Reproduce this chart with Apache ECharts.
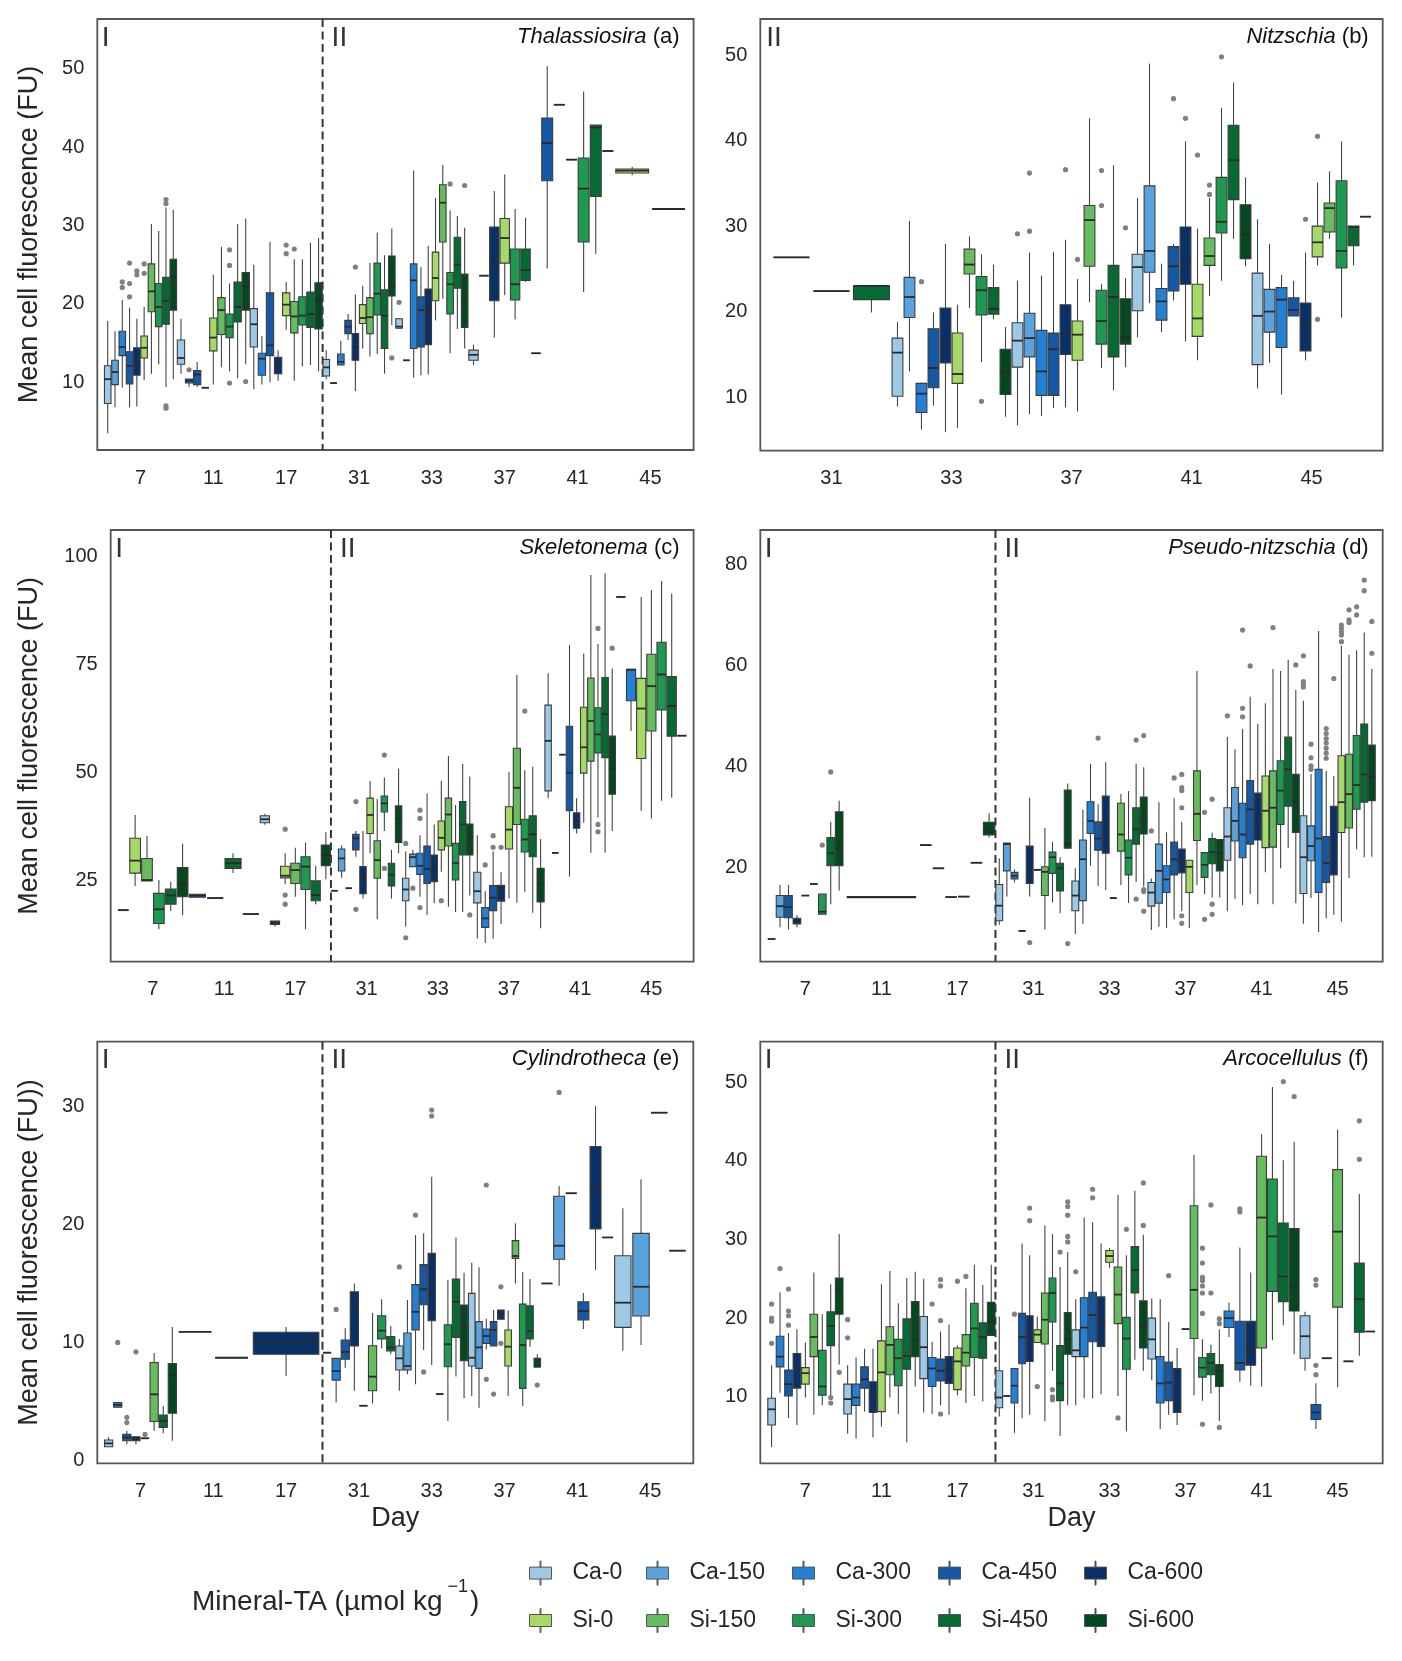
<!DOCTYPE html>
<html><head><meta charset="utf-8">
<script src="https://cdn.jsdelivr.net/npm/echarts@6/dist/echarts.min.js"></script>
<style>html,body{margin:0;padding:0;background:#fff}#c{width:1402px;height:1661px}</style>
</head><body><div id="c"></div>
<script>
// ---------- categories / series ----------
const SERIES = ['Ca-0','Ca-150','Ca-300','Ca-450','Ca-600','Si-0','Si-150','Si-300','Si-450','Si-600'];
const COLORS = ['#9dc8e6','#5ba3dd','#2281d6','#1558a5','#0a3068','#a5da68','#66bc5f','#1d9a50','#066b33','#03481f'];
const DAYS_ALL = ['7','11','17','31','33','37','41','45'];
const DAYS_B = ['31','33','37','41','45'];
const YTICKS_A = [10,20,30,40,50];
const YTICKS_B = [10,20,30,40,50];
const YTICKS_C = [25,50,75,100];
const YTICKS_D = [20,40,60,80];
const YTICKS_E = [0,10,20,30];
const YTICKS_F = [10,20,30,40,50];
// each entry: [min, Q1, median, Q3, max], a single number (all equal) or null (no data)

// Panel a: Thalassiosira
const a_Ca0  = [[3.5,7.3,10.4,12.1,17.8],[11.1,12.3,13.1,15.4,18.1],[9.1,14.5,17.4,19.4,25.0],[10.4,10.8,11.9,12.9,14.1],[16.8,16.9,17.1,18.1,18.2],[12.2,12.8,13.5,14.1,14.8],null,null];
const a_Ca150= [[6.8,9.7,11.3,12.8,16.5],null,null,9.9,12.8,null,null,null];
const a_Ca300= [[9.3,13.4,14.5,16.5,20.5],[9.4,9.9,10.2,10.4,10.4],[9.7,10.9,13.0,13.7,15.9],[12.2,12.2,12.6,13.6,15.3],[10.6,14.3,23.0,25.1,37.0],23.6,null,null];
const a_Ca450= [[6.8,9.8,12.1,13.9,19.5],[9.4,9.7,11.0,11.5,12.6],[10.0,13.4,14.7,21.4,27.9],[15.4,16.2,17.1,17.9,18.7],[10.9,14.5,19.2,20.9,24.7],null,[24.5,35.7,40.5,43.7,50.3],null];
const a_Ca600= [[6.9,10.9,12.7,14.4,18.1],9.3,[10.2,11.1,12.2,13.2,14.1],[8.9,12.8,14.5,16.2,21.2],[11.0,14.8,19.2,21.9,27.4],[15.7,20.4,25.2,29.8,34.4],45.4,null];
const a_Si0  = [[10.3,13.1,14.4,15.9,19.6],[9.7,14.0,15.7,18.2,23.7],[16.7,18.5,19.9,21.4,22.8],[14.3,17.5,18.2,19.9,22.3],[17.9,20.4,23.3,26.6,33.5],[21.1,25.2,28.4,30.9,36.5],38.4,[36.4,36.7,37.0,37.2,37.5]];
const a_Si150= [[11.1,19.0,21.6,25.1,30.2],[11.9,16.1,19.2,20.8,27.3],[10.2,16.3,18.4,20.3,25.7],[13.3,16.2,18.3,20.8,25.2],[20.7,27.9,32.9,35.2,37.7],null,null,null];
const a_Si300= [[12.3,17.1,19.6,22.6,29.3],[11.4,15.7,17.1,18.7,22.6],[12.0,17.3,18.5,20.9,25.7],[13.6,18.6,21.3,25.2,29.1],[13.7,18.7,22.5,24.0,31.9],[18.0,20.5,22.5,27.0,32.1],[21.5,27.9,34.7,38.6,47.1],null];
const a_Si450= [[9.4,17.4,20.4,23.4,32.3],[10.5,17.7,19.6,22.8,30.2],[12.2,17.0,18.7,21.5,27.8],[11.1,14.3,18.5,21.8,26.2],[16.8,22.0,25.0,28.5,31.2],[22.8,23.0,24.3,27.0,31.0],[26.4,33.7,42.5,42.8,42.8],null];
const a_Si600= [[10.4,19.2,23.4,25.7,32.0],[12.3,19.2,22.3,24.0,30.9],[11.4,16.8,20.4,22.7,28.4],[17.3,21.0,22.2,26.1,29.6],[14.3,17.0,20.4,23.8,29.7],13.7,39.5,32.1];
const a_out = [['Ca-300',0,22.8,22.1],['Ca-450',0,25.2,22.6,20.9],['Ca-600',0,24.2,23.7],['Si-0',0,25.1,23.9],['Si-450',0,33.3,32.8,7.0,6.7],['Ca-300',1,11.6],['Si-300',1,26.9,24.9,9.9],['Si-600',1,10.1],['Si-0',2,27.5,26.4],['Si-150',2,27.0],['Ca-600',3,24.7],['Si-600',3,13.1],['Ca-0',4,20.2],['Si-300',4,35.3],['Si-600',4,35.1]];

// Panel b: Nitzschia
const b_Ca0  = [null,[8.9,10.1,15.2,16.9,18.8],[6.7,13.5,16.6,18.7,23.6],[17.0,20.1,25.2,26.7,33.3],[11.0,13.8,19.5,24.5,30.8]];
const b_Ca150= [null,[13.0,19.3,21.7,24.0,30.6],[8.0,14.7,16.9,19.8,26.9],[21.0,24.6,27.1,34.7,49.0],[14.0,17.6,20.0,22.6,27.9]];
const b_Ca300= [null,[6.2,8.2,10.4,11.6,11.7],[7.8,10.2,13.0,17.8,24.2],[17.6,19.0,21.2,22.7,25.6],[10.3,15.8,21.4,22.8,24.3]];
const b_Ca450= [null,[9.0,11.1,13.4,18.0,19.9],[8.7,10.2,15.6,17.5,27.0],[21.3,22.4,25.3,27.6,27.9],[19.5,19.5,20.2,21.6,23.6]];
const b_Ca600= [26.35,[5.9,14.0,16.2,20.4,27.9],[8.8,15.0,17.5,20.8,28.4],[16.5,23.2,25.8,29.9,39.9],[14.3,15.4,18.5,21.0,26.9]];
const b_Si0  = [null,[6.4,11.6,12.7,17.5,20.8],[8.3,14.3,17.3,18.9,23.8],[14.3,17.1,19.2,23.2,29.7],[25.4,26.4,28.1,30.0,35.1]];
const b_Si150= [null,[20.4,24.4,25.5,27.3,28.8],[21.1,25.3,30.7,32.4,42.6],[21.8,25.4,26.5,28.6,33.3],[28.5,29.3,32.1,32.7,36.4]];
const b_Si300= [22.4,[14.1,19.6,22.5,24.1,26.7],[13.4,16.2,18.9,22.5,23.2],[23.6,29.2,30.5,35.7,43.8],[19.3,25.1,27.1,35.3,39.9]];
const b_Si450= [[19.9,21.4,23.0,23.0,23.0],[19.1,19.7,20.3,22.8,25.5],[10.8,14.7,21.7,25.4,37.1],[28.5,33.1,37.7,41.8,46.8],[25.4,27.7,29.9,30.0,30.0]];
const b_Si600= [null,[7.7,10.3,13.0,15.6,18.2],[13.5,16.2,17.0,21.5,23.9],[25.3,26.2,29.0,32.5,35.7],31.1];
const b_out = [['Ca-300',1,23.5],['Si-300',1,9.5],['Ca-0',2,29.1],['Ca-150',2,36.2,29.4],['Ca-600',2,36.6],['Si-0',2,26.1],['Si-300',2,36.5,32.4],['Si-600',2,29.8],['Ca-450',3,44.9],['Ca-600',3,42.6],['Si-0',3,38.3],['Si-150',3,34.8,33.7],['Si-300',3,49.8],['Ca-600',4,30.8],['Si-0',4,40.5,19.1]];

// Panel c: Skeletonema
const c_Ca0  = [18.0,null,[37.8,38.3,39.1,39.9,40.4],22.5,[14.2,20.2,22.8,25.4,31.6],[11.4,19.7,22.4,26.8,35.4],[44.0,45.7,57.3,65.6,73.0],null];
const c_Ca150= [null,null,null,[25.5,27.1,30.0,32.2,33.0],[28.1,28.1,30.3,31.0,32.0],null,31.3,90.7];
const c_Ca300= [null,null,null,23.1,[21.1,26.3,28.3,31.2,35.4],[10.4,14.0,16.1,18.6,22.4],54.1,[59.6,66.6,73.8,73.9,73.9]];
const c_Ca450= [null,[21.0,21.0,21.4,21.7,21.7],[14.2,14.7,15.1,15.5,15.5],[30.4,32.0,34.7,35.6,36.4],[16.9,24.2,27.6,32.9,45.1],[11.4,17.9,20.9,23.7,31.7],[25.8,41.1,49.9,60.7,79.5],null];
const c_Ca600= [null,20.8,null,[20.7,21.8,25.2,28.1,36.4],[19.6,24.6,26.9,30.8,37.9],[14.8,20.1,23.4,23.8,26.8],[35.8,37.0,38.5,40.6,44.0],null];
const c_Si0  = [[23.6,26.6,29.5,34.7,40.1],null,[24.0,25.5,26.0,28.2,31.2],[31.2,35.8,40.1,44.0,48.0],[26.9,32.0,34.8,38.7,48.0],[20.7,32.2,36.7,42.0,50.1],[38.3,49.8,55.8,65.1,77.6],[41.1,53.2,64.8,71.8,90.7]];
const c_Si150= [[24.8,24.8,25.0,30.0,35.2],null,[21.1,24.2,27.3,28.9,32.5],[15.9,25.4,29.6,34.1,43.8],[18.8,32.9,40.2,44.0,53.8],[19.7,37.9,46.4,55.6,72.6],[31.3,52.6,61.9,71.9,95.8],[39.3,59.6,70.0,77.4,92.3]];
const c_Si300= [[13.6,14.9,18.2,21.9,25.0],null,[13.6,22.8,28.1,30.4,33.7],[36.4,40.8,42.8,44.5,48.8],[17.6,25.0,28.9,33.5,42.4],[22.3,31.5,34.4,39.1,50.5],[39.5,54.5,58.8,65.0,79.8],[43.4,64.5,72.7,80.2,94.4]];
const c_Si450= [[17.8,19.4,21.4,22.9,24.6],[26.6,27.7,28.9,30.0,31.2],[19.4,20.2,21.5,24.8,28.3],[20.7,23.6,26.2,28.9,32.0],[17.6,30.8,37.9,43.2,51.9],[17.4,30.4,35.6,39.9,51.3],[31.3,53.4,63.5,72.0,96.2],[44.1,58.4,65.4,72.2,91.5]];
const c_Si600= [[16.9,21.1,24.1,27.9,33.4],17.1,[25.2,28.3,30.8,33.1,36.1],[31.2,33.7,39.2,42.2,50.8],[21.4,30.8,34.9,38.0,49.0],[13.8,19.9,24.1,27.7,34.5],[36.4,44.9,50.9,58.4,74.1],58.5];
const c_out = [['Si-0',2,36.8,21.5,19.4],['Ca-450',3,43.2,18.2],['Si-300',3,54.0,27.7],['Ca-0',4,33.5,11.6],['Ca-150',4,23.1],['Ca-300',4,41.2,39.3,18.6],['Si-0',4,20.2],['Si-600',4,16.9],['Ca-300',5,28.5],['Ca-450',5,35.3,32.6],['Ca-600',5,32.6],['Si-300',5,64.2],['Si-300',6,83.4,37.9,36.2],['Si-600',6,78.8]];

// Panel d: Pseudo-nitzschia
const d_Ca0  = [5.8,null,null,[8.6,9.4,12.4,16.6,21.8],[6.8,11.4,14.4,17.3,19.8],[7.6,12.3,15.0,17.0,17.8],[11.3,21.4,26.1,31.8,45.8],[8.8,14.8,22.0,30.2,53.0]];
const d_Ca150= [[8.1,10.1,12.3,14.4,16.5],null,24.4,[14.2,19.3,24.6,24.8,24.8],[8.8,13.4,21.6,25.4,31.4],[8.2,12.9,19.3,24.6,32.9],[13.7,25.2,29.2,35.8,43.4],[13.9,21.3,24.2,28.2,38.5]];
const d_Ca300= [null,null,19.8,[17.0,17.7,18.3,19.0,19.6],[20.3,26.7,29.2,33.0,40.5],[8.0,15.0,17.6,20.3,26.9],[12.5,21.9,26.5,32.7,47.4],[7.2,15.0,25.7,39.4,66.8]];
const d_Ca450= [[7.7,10.0,12.1,14.4,16.5],null,14.1,7.4,[16.3,23.4,25.7,29.0,32.5],[9.7,18.5,21.6,25.0,33.7],[14.7,24.6,31.5,37.2,53.8],[9.9,17.0,20.8,26.1,39.1]];
const d_Ca600= [[8.1,8.8,9.4,9.9,10.5],null,null,[14.2,16.8,18.5,24.2,33.8],[15.5,22.8,28.2,34.1,40.8],[11.3,18.9,21.1,23.6,29.0],[12.7,25.4,29.2,34.7,48.4],[10.6,18.5,23.9,32.1,38.1]];
const d_Si0  = [14.4,null,null,19.5,13.9,[8.0,15.0,20.1,21.4,21.4],[19.0,23.9,31.2,38.1,52.5],[9.2,26.9,32.9,42.1,63.9]];
const d_Si150= [16.7,null,null,[7.7,14.4,19.1,20.1,27.8],[16.5,23.2,26.5,32.7,34.5],[16.5,25.3,30.6,39.1,58.9],[12.7,24.0,31.8,39.1,59.3],[17.9,27.8,34.5,42.4,62.1]];
const d_Si300= [[10.7,10.7,11.2,14.7,14.7],null,14.2,[13.0,18.8,22.0,23.0,25.1],[12.9,18.5,21.9,25.4,35.1],[14.7,18.0,20.5,22.9,22.9],[19.8,28.5,35.2,41.1,58.9],[23.6,31.5,36.3,46.1,63.0]];
const d_Si450= [[12.7,20.3,22.8,25.9,29.0],[14.0,14.0,14.1,14.2,14.2],20.9,[10.9,15.3,19.8,20.8,22.0],[17.1,24.6,27.5,31.8,40.5],[14.0,20.7,23.0,25.7,26.9],[23.8,32.1,39.4,45.8,61.1],[22.0,32.9,38.4,48.4,66.5]];
const d_Si600= [[15.4,20.3,23.8,31.0,33.2],null,[25.9,26.4,27.1,28.9,30.7],[23.8,23.8,24.6,35.3,36.6],[16.2,26.6,29.5,33.9,39.8],[14.0,19.3,22.8,25.5,25.5],[12.9,26.9,33.0,38.4,55.1],[22.1,33.2,37.9,44.2,59.3]];
const d_out = [['Si-300',0,24.4],['Si-450',0,38.9],['Ca-600',3,5.1],['Si-600',3,4.9],['Ca-450',4,45.6],['Si-450',4,45.2,13.7],['Si-600',4,46.1,15.6,15.2,11.3],['Ca-0',5,27.2],['Ca-450',5,37.7],['Ca-600',5,38.4,35.8,35.2,31.8,10.4,8.9],['Si-300',5,30.9,9.7],['Si-450',5,33.5,12.7,10.7],['Ca-0',6,50.0],['Ca-300',6,67.0,51.5,49.8],['Ca-450',6,59.9],['Si-150',6,67.5],['Si-600',6,60.1],['Ca-0',7,61.9,56.8,56.1,55.7],['Ca-150',7,44.4,41.7,40.1,39.4],['Ca-450',7,47.5,46.5,45.5,44.6,43.6,42.6,41.6],['Ca-600',7,57.4],['Si-0',7,68.0,67.3,66.6,66.0,64.7],['Si-150',7,71.0,69.0,68.5],['Si-300',7,71.6,70.0],['Si-450',7,76.9,74.8],['Si-600',7,68.7,62.4]];

// Panel e: Cylindrotheca
const e_Ca0  = [[1.15,1.15,1.44,1.72,1.95],null,null,9.13,[5.9,7.66,8.65,9.7,10.3],[5.45,8.0,8.7,14.16,16.76],15.0,[9.3,11.28,13.37,17.35,21.37]];
const e_Ca150= [null,null,null,null,[7.3,7.66,8.0,10.8,13.6],[4.46,7.8,9.58,11.76,16.37],[14.8,17.05,18.2,22.4,23.27],[9.78,12.24,14.72,19.25,23.83]];
const e_Ca300= [[4.5,4.5,4.7,4.9,4.9],10.9,null,[4.9,6.8,7.57,8.65,8.65],[6.45,11.05,12.6,14.9,19.1],[9.41,9.92,10.54,11.14,12.0],22.65,29.48];
const e_Ca450= [[1.36,1.66,1.95,2.2,2.5],null,null,[7.85,8.57,9.2,10.2,11.2],[9.36,13.2,14.5,16.6,19.25],[9.7,9.7,11.05,11.76,12.75],[11.14,11.9,12.66,13.45,14.2],null];
const e_Ca600= [[1.36,1.66,1.86,2.0,2.0],8.7,[7.15,9.0,10.1,10.86,11.3],[5.9,9.7,12.83,14.3,15.0],[8.08,11.84,14.16,17.56,24.05],[11.96,11.96,12.47,12.75,12.75],[16.14,19.63,23.12,26.6,30.05],null];
const e_Si0  = [1.87,null,null,4.63,null,[5.45,8.0,9.64,11.05,12.7],18.9,17.78];
const e_Si150= [[2.5,3.3,5.6,8.3,9.1],null,null,[4.83,5.9,7.1,9.72,12.5],5.62,[15.0,17.13,17.33,18.63,20.1],null,null];
const e_Si300= [null,null,null,[9.5,10.3,11.0,12.26,13.66],[3.33,7.94,9.84,11.5,15.3],[4.6,6.1,9.78,13.26,15.95],null,null];
const e_Si450= [[2.3,2.8,3.33,3.85,4.6],null,null,[9.0,9.27,9.55,10.5,11.4],[7.1,10.43,13.45,15.38,18.9],[9.64,10.3,10.97,13.1,15.38],null,null];
const e_Si600= [[1.66,4.0,7.2,8.2,11.3],null,null,null,[5.26,8.45,11.28,13.17,15.9],[7.94,7.94,7.94,8.65,9.0],null,null];
const e_out = [['Ca-300',0,10.0],['Ca-450',0,3.65,3.2],['Ca-600',0,9.2],['Si-0',0,2.2],['Ca-300',3,12.8],['Ca-0',4,16.4],['Ca-300',4,20.8],['Ca-450',4,7.5],['Ca-600',4,29.7,29.2],['Ca-300',5,23.35,6.87],['Ca-450',5,5.62],['Ca-600',5,14.72,9.92],['Si-600',5,6.39],['Ca-150',6,31.2]];

// Panel f: Arcocellulus
const f_Ca0  = [[3.6,6.4,8.4,9.8,14.0],[5.3,7.8,9.7,11.6,14.0],[8.0,12.3,16.3,20.2,25.0],[7.5,8.6,9.9,13.3,20.2],[8.9,15.1,15.9,18.5,22.4],[12.1,14.8,17.3,20.0,22.5],null,[13.3,14.9,17.7,20.3,20.8]];
const f_Ca150= [null,null,null,10.1,null,null,null,null];
const f_Ca300= [[10.5,13.8,15.1,17.7,23.3],[4.7,8.9,9.9,11.6,15.0],[7.8,11.3,13.6,15.0,17.0],[5.4,9.2,11.4,13.6,13.6],[9.8,15.1,18.8,22.6,32.8],[5.9,9.2,11.7,15.1,22.4],[17.6,18.8,20.0,20.9,22.0],null];
const f_Ca450= [[7.3,10.1,11.6,13.4,18.1],[8.1,11.1,12.2,13.8,16.1],[8.9,12.0,13.3,14.8,18.3],[7.3,14.2,17.6,20.6,29.5],[9.8,17.0,20.4,23.3,32.2],[7.7,9.5,11.8,14.4,19.5],[11.9,13.4,14.3,19.6,29.0],[5.9,7.1,8.0,9.0,11.7]];
const f_Ca600= [[6.4,11.1,13.9,15.5,18.6],[4.8,8.0,10.1,11.9,16.1],[7.7,11.7,13.5,15.1,19.2],[7.7,14.5,17.7,20.3,28.0],[10.3,16.4,19.5,22.7,29.5],[6.4,8.0,9.0,13.6,16.2],[11.4,14.0,15.9,19.6,25.8],14.9];
const f_Si0  = [[9.9,11.6,13.0,13.7,16.9],[6.2,8.1,13.1,17.1,24.3],[10.2,10.9,14.5,16.2,16.5],[16.9,16.9,17.9,18.5,20.2],[26.4,27.1,27.9,28.6,28.9],18.6,null,null];
const f_Si150= [[7.7,15.1,17.6,20.5,25.8],[9.9,12.8,16.6,18.9,26.0],[9.2,13.9,15.6,17.9,23.8],[6.9,16.7,19.8,23.2,31.8],[10.1,19.3,23.0,26.5,35.7],[10.2,17.4,23.6,34.3,40.8],[11.3,16.2,32.8,40.6,43.4],[11.2,21.4,31.0,38.9,44.0]];
const f_Si300= [[8.9,10.2,11.3,15.9,20.5],[7.8,11.4,14.9,17.3,21.9],[10.1,15.0,18.7,21.9,26.8],[13.3,19.5,23.2,25.1,30.7],[5.6,13.5,17.4,20.1,28.0],[9.5,12.5,13.7,15.0,17.3],[17.2,23.4,30.4,37.7,49.4],14.5];
const f_Si450= [[10.2,16.5,19.0,20.8,24.3],[4.2,13.5,15.2,19.9,25.1],[9.4,14.9,17.6,19.4,24.2],[5.0,9.5,11.7,16.5,26.5],[14.7,23.2,26.1,29.1,36.2],[10.4,12.8,14.3,15.5,16.6],[19.1,22.1,25.3,32.1,40.1],[15.2,18.2,22.4,27.0,35.8]];
const f_Si600= [[14.1,20.5,23.6,25.1,30.7],[11.3,15.1,17.3,22.1,25.9],[17.8,17.8,19.6,22.0,26.8],[8.9,15.4,17.3,20.7,28.4],[13.3,16.2,18.9,22.2,30.6],[6.9,11.3,13.3,14.1,18.6],[15.4,20.9,24.0,31.4,42.4],18.3];
const f_out = [['Ca-0',0,21.8,20.0,19.6,16.8],['Ca-300',0,26.3],['Ca-450',0,23.7,20.9,20.3,19.1],['Si-450',0,9.9,9.2],['Si-600',0,13.1],['Ca-0',1,19.8,17.5],['Ca-300',2,21.8],['Ca-450',2,24.9,24.1,19.7,7.8],['Si-0',2,24.7],['Si-150',2,25.3],['Ca-300',3,20.5],['Ca-600',3,34.0,32.4],['Si-0',3,11.3],['Si-300',3,10.9,10.0,9.6],['Si-450',3,28.4],['Si-600',3,34.8,34.2,33.1,30.4,29.7],['Ca-0',4,25.9],['Ca-450',4,36.4,35.3],['Si-150',4,7.3],['Si-300',4,31.3],['Si-600',4,37.2,31.8],['Ca-450',5,25.4],['Si-300',5,28.9,27.0,25.2,24.8,24.1,23.2,20.6,6.5],['Si-450',5,34.4,23.2],['Si-600',5,19.9,19.3,6.1],['Ca-450',6,33.5,33.9],['Si-450',6,50.1],['Si-600',6,48.2],['Ca-450',7,24.9,24.2,14.0,12.8],['Si-450',7,45.1,40.2]];

// ---------- layout / style (not data) ----------
const FONT = "'Liberation Sans', Arial, Helvetica, sans-serif";
const TXT = '#262626';
const EDGE = '#3c3c3c', WHISK = '#444', MED = '#2a2a2a';
const YLAB = 'Mean cell fluorescence (FU)';
const TICK_FS = 20, TITLE_FS = 27;
const PANELS = [
  {days:DAYS_ALL, stats:[a_Ca0,a_Ca150,a_Ca300,a_Ca450,a_Ca600,a_Si0,a_Si150,a_Si300,a_Si450,a_Si600], out:a_out, y:[1.36,56.34], ticks:YTICKS_A, genus:'Thalassiosira', letter:'a', phase:true, ylab:YLAB, xlab:'', frame:[97.3,19,693.6,450]},
  {days:DAYS_B, stats:[b_Ca0,b_Ca150,b_Ca300,b_Ca450,b_Ca600,b_Si0,b_Si150,b_Si300,b_Si450,b_Si600], out:b_out, y:[3.73,54.22], ticks:YTICKS_B, genus:'Nitzschia', letter:'b', phase:false, ylab:'', xlab:'', frame:[760.3,19,1382.7,450.7]},
  {days:DAYS_ALL, stats:[c_Ca0,c_Ca150,c_Ca300,c_Ca450,c_Ca600,c_Si0,c_Si150,c_Si300,c_Si450,c_Si600], out:c_out, y:[6.04,106.24], ticks:YTICKS_C, genus:'Skeletonema', letter:'c', phase:true, ylab:YLAB, xlab:'', frame:[110.7,530,693.6,961.7]},
  {days:DAYS_ALL, stats:[d_Ca0,d_Ca150,d_Ca300,d_Ca450,d_Ca600,d_Si0,d_Si150,d_Si300,d_Si450,d_Si600], out:d_out, y:[1.30,86.82], ticks:YTICKS_D, genus:'Pseudo-nitzschia', letter:'d', phase:true, ylab:'', xlab:'', frame:[760.3,530,1382.7,961.7]},
  {days:DAYS_ALL, stats:[e_Ca0,e_Ca150,e_Ca300,e_Ca450,e_Ca600,e_Si0,e_Si150,e_Si300,e_Si450,e_Si600], out:e_out, y:[-0.25,35.5], ticks:YTICKS_E, genus:'Cylindrotheca', letter:'e', phase:true, ylab:'Mean cell fluorescence (FU))', xlab:'Day', frame:[97.3,1041.7,693.3,1463.3]},
  {days:DAYS_ALL, stats:[f_Ca0,f_Ca150,f_Ca300,f_Ca450,f_Ca600,f_Si0,f_Si150,f_Si300,f_Si450,f_Si600], out:f_out, y:[1.53,55.17], ticks:YTICKS_F, genus:'Arcocellulus', letter:'f', phase:true, ylab:'', xlab:'Day', frame:[760.3,1041.7,1382.7,1463.3]}
];
const PAD_FRAC = 0.093;

const grid=[], xAxis=[], yAxis=[], series=[], graphic=[];

function makeRender(outMap, k){
  return function(params, api){
    const d = api.value(0);
    const band = api.size([1,0])[0];
    const slot = api.value(6), n = api.value(7);
    const c0 = api.coord([d, api.value(3)]);
    const sw = band / n;
    const cx = c0[0] - band/2 + sw*(slot+0.5);
    const bw = sw*0.9;
    const yy = i => api.coord([d, api.value(i)])[1];
    const yMin=yy(1), yQ1=yy(2), yMed=yy(3), yQ3=yy(4), yMax=yy(5);
    const ch = [
      {type:'line', shape:{x1:cx,y1:yMax,x2:cx,y2:yQ3}, style:{stroke:WHISK, lineWidth:1.1}},
      {type:'line', shape:{x1:cx,y1:yQ1,x2:cx,y2:yMin}, style:{stroke:WHISK, lineWidth:1.1}},
      {type:'rect', shape:{x:cx-bw/2, y:yQ3, width:bw, height:Math.max(yQ1-yQ3,0)}, style:{fill:COLORS[k], stroke:EDGE, lineWidth:1.1}},
      {type:'line', shape:{x1:cx-bw/2,y1:yMed,x2:cx+bw/2,y2:yMed}, style:{stroke:MED, lineWidth:1.8}}
    ];
    (outMap[k+'_'+d]||[]).forEach(v=>{
      const pt = api.coord([d, v]);
      ch.push({type:'circle', shape:{cx:cx, cy:pt[1], r:2.6}, style:{fill:'#808080'}});
    });
    return {type:'group', children:ch};
  };
}

PANELS.forEach((p,i)=>{
  const [L,T,R,B] = p.frame;
  const n = p.days.length;
  const W = R-L, band = W/(n+2*PAD_FRAC), pad = PAD_FRAC*band;
  const dataL = L+pad;
  grid.push({left:L, top:T, width:W, height:B-T, show:true, borderColor:'#555', borderWidth:1.8, backgroundColor:'rgba(0,0,0,0)', outerBoundsMode:'none', containLabel:false});
  grid.push({left:dataL, top:T, width:W-2*pad, height:B-T, outerBoundsMode:'none', containLabel:false});
  xAxis.push({gridIndex:2*i, type:'value', show:false, min:0, max:1});
  yAxis.push({gridIndex:2*i, type:'value', show:false, min:0, max:1});
  xAxis.push({gridIndex:2*i+1, type:'category', data:p.days,
    axisLine:{show:false}, axisTick:{show:false}, splitLine:{show:false},
    axisLabel:{fontSize:TICK_FS, color:TXT, margin:18, interval:0, fontFamily:FONT},
    name:p.xlab, nameLocation:'middle', nameGap:42, nameTextStyle:{fontSize:TITLE_FS, color:TXT, fontFamily:FONT}});
  yAxis.push({gridIndex:2*i+1, type:'value', min:p.y[0], max:p.y[1],
    axisLine:{show:false}, axisTick:{show:false}, splitLine:{show:false},
    axisLabel:{fontSize:TICK_FS, color:TXT, margin:pad+13, fontFamily:FONT, customValues:p.ticks},
    name:p.ylab, nameLocation:'middle', nameGap:dataL-30-TITLE_FS/2, nameTextStyle:{fontSize:TITLE_FS, color:TXT, fontFamily:FONT}});

  // slot assignment from data presence
  const present = p.days.map((_,d)=>SERIES.map((_,k)=>k).filter(k=>p.stats[k][d]!==null));
  const outMap = {};
  p.out.forEach(o=>{ const k = SERIES.indexOf(o[0]); outMap[k+'_'+o[1]] = o.slice(2); });
  SERIES.forEach((name,k)=>{
    const items = [];
    p.days.forEach((_,d)=>{
      const e = p.stats[k][d];
      if (e===null) return;
      const q = (typeof e==='number') ? [e,e,e,e,e] : e;
      items.push([d, q[0], q[1], q[2], q[3], q[4], present[d].indexOf(k), present[d].length]);
    });
    series.push({type:'custom', name, xAxisIndex:2*i+1, yAxisIndex:2*i+1, data:items,
      encode:{x:0, y:[1,2,3,4,5]}, itemStyle:{color:COLORS[k]}, renderItem:makeRender(outMap,k),
      silent:true, animation:false, z:3});
  });

  const divX = dataL + 3*band;
  if (p.phase){
    series.push({type:'custom', xAxisIndex:2*i+1, yAxisIndex:2*i+1, data:[[2, p.y[0]]], encode:{x:0,y:1},
      silent:true, animation:false, z:2,
      renderItem:function(params, api){
        const bw = api.size([1,0])[0];
        const x = api.coord([api.value(0), api.value(1)])[0] + bw/2;
        const cs = params.coordSys;
        return {type:'line', shape:{x1:x,y1:cs.y,x2:x,y2:cs.y+cs.height}, style:{stroke:'#333', lineWidth:2, lineDash:[8,4.5]}};
      }});
    graphic.push({type:'text', x:L+4.5, y:T+19, style:{text:'I', fontSize:28, fontFamily:FONT, fill:'#333', align:'left', verticalAlign:'middle', textAlign:'left', textVerticalAlign:'middle'}});
    graphic.push({type:'text', x:divX+9, y:T+19, style:{text:'II', fontSize:28, fontFamily:FONT, fill:'#333', align:'left', verticalAlign:'middle', textAlign:'left', textVerticalAlign:'middle'}});
  } else {
    graphic.push({type:'text', x:L+6, y:T+19, style:{text:'II', fontSize:28, fontFamily:FONT, fill:'#333', align:'left', verticalAlign:'middle', textAlign:'left', textVerticalAlign:'middle'}});
  }
  graphic.push({type:'text', x:R-14, y:T+17.5, style:{text:'{i|'+p.genus+'} ('+p.letter+')', fontSize:22, fontFamily:FONT, fill:'#111',
    align:'right', verticalAlign:'middle', textAlign:'right', textVerticalAlign:'middle',
    rich:{i:{fontStyle:'italic', fontSize:22, fontFamily:FONT, fill:'#111'}}}});
});

// legend title
graphic.push({type:'text', x:192, y:1597, style:{text:'{n|Mineral-TA (µmol kg}{s|−1}{n|)}', fontSize:28, fontFamily:FONT, fill:TXT,
  align:'left', verticalAlign:'middle', textAlign:'left', textVerticalAlign:'middle',
  rich:{n:{fontSize:28, fontFamily:FONT, fill:TXT, verticalAlign:'bottom', lineHeight:38}, s:{fontSize:18, fontFamily:FONT, fill:TXT, verticalAlign:'top', lineHeight:38, padding:[0,2,0,5]}}}});

const ICON = 'path://M11.5,0h1v6h-1z M1,6h22v12h-22z M11.5,18h1v6h-1z';
const LEG_X = [529, 646, 792, 938, 1084];
const LEG_Y = [1572.6, 1620];
const legend = SERIES.map((s,k)=>({
  data:[{name:s, icon:ICON}], left:LEG_X[k%5], top:LEG_Y[Math.floor(k/5)]-12,
  itemWidth:26, itemHeight:24, itemGap:0, padding:0, selectedMode:false,
  itemStyle:{borderColor:'#555', borderWidth:1},
  textStyle:{fontSize:23, color:TXT, fontFamily:FONT, padding:[0,0,0,14]}
}));

const chart = echarts.init(document.getElementById('c'), null, {renderer:'canvas'});
chart.setOption({
  animation:false, backgroundColor:'#fff', textStyle:{fontFamily:FONT},
  grid, xAxis, yAxis, series, legend, graphic
});
</script></body></html>
